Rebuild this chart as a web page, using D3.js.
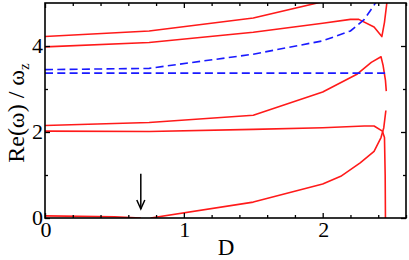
<!DOCTYPE html>
<html>
<head>
<meta charset="utf-8">
<script src="https://cdn.jsdelivr.net/npm/d3@7"></script>
<style>
  body { margin: 0; background: #fff; }
  svg { display: block; }
  text { font-family: "Liberation Serif", "Times New Roman", serif; fill: #000; }
</style>
</head>
<body>
<div id="chart"></div>
<script>
// red solid branches (D, Re(w)/wz)
var redA_x = [0, 0.75, 1.5, 2.0];
var redA_y = [4.22, 4.35, 4.65, 5.03];
var redB_x = [0, 0.75, 1.5, 2.0, 2.2, 2.26, 2.37, 2.426, 2.445, 2.462, 2.466];
var redB_y = [3.98, 4.08, 4.32, 4.53, 4.62, 4.62, 4.44, 4.22, 4.55, 5.0, 5.1];
var redC_x = [0, 0.75, 1.5, 2.0, 2.25, 2.35, 2.42, 2.435, 2.452, 2.458];
var redC_y = [2.15, 2.22, 2.39, 2.93, 3.35, 3.62, 3.75, 3.55, 3.2, 2.95];
var redD_x = [0, 0.75, 1.5, 2.0, 2.3, 2.37, 2.43, 2.445, 2.45, 2.452];
var redD_y = [2.02, 2.01, 2.06, 2.1, 2.14, 2.14, 2.02, 1.87, 1.0, 0];
var redE_x = [0.76, 1.5, 2.0, 2.13, 2.27, 2.37, 2.42, 2.44, 2.455];
var redE_y = [0, 0.37, 0.79, 0.97, 1.28, 1.55, 1.87, 2.1, 2.5];
var redF_x = [0, 0.5, 0.69];
var redF_y = [0.05, 0.03, 0];

// blue dashed branches
var blue1_x = [0, 0.75, 1.5, 2.0, 2.2, 2.3, 2.37, 2.4];
var blue1_y = [3.45, 3.48, 3.81, 4.12, 4.35, 4.62, 4.95, 5.1];
var blue2_x = [0, 0.75, 1.5, 2.0, 2.2, 2.3, 2.4, 2.45];
var blue2_y = [3.37, 3.37, 3.37, 3.37, 3.37, 3.37, 3.37, 3.37];

// axis ticks
var xMajor = [0, 1, 2];
var yMajor = [0, 2, 4];

// arrow marker (D position, tail and tip heights)
var arrowD = 0.69, arrowTail = 1.03, arrowTip = 0.21;

var W = 409, H = 260;
var margin = { left: 45, top: 3, right: 3, bottom: 42 };
var iw = W - margin.left - margin.right;
var ih = H - margin.top - margin.bottom;

var svg = d3.select("#chart").append("svg")
  .attr("width", W).attr("height", H);

var g = svg.append("g")
  .attr("transform", "translate(" + margin.left + "," + margin.top + ")");

var x = d3.scaleLinear().domain([0, 2.6]).range([0, iw]);
var y = d3.scaleLinear().domain([0, 5]).range([ih, 0]);

svg.append("defs").append("clipPath").attr("id", "clip")
  .append("rect").attr("width", iw).attr("height", ih);

function zip(xs, ys) {
  return xs.map(function (v, i) { return [v, ys[i]]; });
}

var line = d3.line()
  .x(function (d) { return x(d[0]); })
  .y(function (d) { return y(d[1]); });

var curves = g.append("g").attr("clip-path", "url(#clip)");

var reds = [[redA_x, redA_y], [redB_x, redB_y], [redC_x, redC_y],
            [redD_x, redD_y], [redE_x, redE_y], [redF_x, redF_y]];
reds.forEach(function (c) {
  curves.append("path")
    .attr("d", line(zip(c[0], c[1])))
    .attr("fill", "none")
    .attr("stroke", "#ff1a1a")
    .attr("stroke-width", 1.6)
    .attr("stroke-linejoin", "round");
});

[[blue1_x, blue1_y], [blue2_x, blue2_y]].forEach(function (c) {
  curves.append("path")
    .attr("d", line(zip(c[0], c[1])))
    .attr("fill", "none")
    .attr("stroke", "#1a1aff")
    .attr("stroke-width", 1.6)
    .attr("stroke-dasharray", "8,4.3");
});

// axes: inward ticks on all four sides
var xMinor = d3.range(0, 2.61, 0.2).filter(function (v) {
  return Math.abs(v - Math.round(v)) > 1e-6;
});
var yMinor = [1, 3];

function styleAxis(sel) {
  sel.select(".domain").remove();
  sel.selectAll("line").attr("stroke", "#000").attr("stroke-width", 1.3);
  sel.selectAll("text").remove();
}

g.append("g").attr("transform", "translate(0," + ih + ")")
  .call(d3.axisBottom(x).tickValues(xMajor).tickSize(-5)).call(styleAxis);
g.append("g").attr("transform", "translate(0," + ih + ")")
  .call(d3.axisBottom(x).tickValues(xMinor).tickSize(-3)).call(styleAxis);
g.append("g")
  .call(d3.axisTop(x).tickValues(xMajor).tickSize(-5)).call(styleAxis);
g.append("g")
  .call(d3.axisTop(x).tickValues(xMinor).tickSize(-3)).call(styleAxis);
g.append("g")
  .call(d3.axisLeft(y).tickValues(yMajor).tickSize(-5)).call(styleAxis);
g.append("g")
  .call(d3.axisLeft(y).tickValues(yMinor).tickSize(-3)).call(styleAxis);
g.append("g").attr("transform", "translate(" + iw + ",0)")
  .call(d3.axisRight(y).tickValues(yMajor).tickSize(-5)).call(styleAxis);
g.append("g").attr("transform", "translate(" + iw + ",0)")
  .call(d3.axisRight(y).tickValues(yMinor).tickSize(-3)).call(styleAxis);

g.append("rect")
  .attr("width", iw).attr("height", ih)
  .attr("fill", "none").attr("stroke", "#000").attr("stroke-width", 1.6);

// tick labels
g.selectAll(".xl").data(xMajor).enter().append("text")
  .attr("x", function (d) { return x(d) + 1; })
  .attr("y", ih + 19)
  .attr("text-anchor", "middle")
  .style("font-size", "22px")
  .text(function (d) { return d; });

g.selectAll(".yl").data(yMajor).enter().append("text")
  .attr("x", -2)
  .attr("y", function (d) { return y(d) + 7; })
  .attr("text-anchor", "end")
  .style("font-size", "22px")
  .text(function (d) { return d; });

// axis titles
svg.append("text")
  .attr("x", 226).attr("y", 255)
  .attr("text-anchor", "middle")
  .style("font-size", "23px")
  .text("D");

var yt = svg.append("text")
  .attr("transform", "translate(24,113) rotate(-90)")
  .attr("text-anchor", "middle")
  .style("font-size", "24px");
yt.append("tspan").text("Re(ω) / ω");
yt.append("tspan").attr("dy", 5).style("font-size", "15px").text("z");

// arrow
var ax = x(arrowD);
g.append("line")
  .attr("x1", ax).attr("x2", ax)
  .attr("y1", y(arrowTail)).attr("y2", y(arrowTip))
  .attr("stroke", "#000").attr("stroke-width", 1.5);
g.append("path")
  .attr("d", "M" + (ax - 4) + "," + (y(arrowTip) - 9) + "L" + ax + "," + y(arrowTip) +
    "L" + (ax + 4) + "," + (y(arrowTip) - 9))
  .attr("fill", "none").attr("stroke", "#000").attr("stroke-width", 1.5);
</script>
</body>
</html>
